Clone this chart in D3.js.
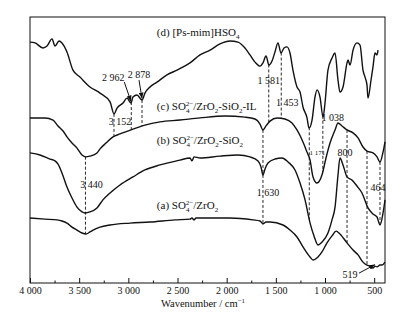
<!DOCTYPE html>
<html>
<head>
<meta charset="utf-8">
<script src="https://cdn.jsdelivr.net/npm/d3@7"></script>
<style>
  body { margin: 0; background: #fff; }
  svg { display: block; font-family: "Liberation Serif", "Times New Roman", serif; }
</style>
</head>
<body>
<svg id="chart" width="410" height="314"></svg>
<script>
// FT-IR spectra, [wavenumber (cm-1), transmittance (a.u.)]
const specD = [[4000,90.6],[3949,90.3],[3868,88.4],[3827,89.1],[3776,91.8],[3746,89.1],[3705,91.0],[3675,90.3],
  [3624,86.9],[3563,80.1],[3492,77.5],[3390,73.8],[3288,71.5],[3186,68.2],[3146,63.7],[3115,65.9],[3054,67.8],
  [3014,69.6],[2973,67.8],[2953,70.0],[2912,70.8],[2861,68.9],[2831,71.5],[2780,73.8],[2709,75.6],[2607,78.3],
  [2505,80.1],[2373,82.8],[2271,85.8],[2169,87.6],[2068,89.9],[1966,91.0],[1885,90.6],[1814,88.4],[1763,85.8],
  [1712,83.1],[1661,81.6],[1631,82.8],[1600,85.4],[1570,82.0],[1539,83.5],[1509,86.9],[1478,90.3],[1448,86.5],
  [1417,88.4],[1387,88.8],[1356,86.5],[1326,80.1],[1285,73.8],[1254,71.9],[1224,66.3],[1183,62.2],[1163,58.4],
  [1132,61.4],[1102,70.0],[1081,72.7],[1051,70.0],[1020,62.5],[1000,67.8],[970,80.1],[929,84.6],[898,86.5],
  [868,76.4],[848,71.9],[817,73.8],[776,82.8],[766,83.9],[746,82.0],[715,87.6],[675,90.3],[644,89.5],[614,80.1],
  [593,77.5],[573,74.5],[563,69.6],[532,76.4],[512,81.3],[492,86.5],[471,85.8],[461,87.6]];

const specC = [[4000,62.2],[3847,62.2],[3766,61.4],[3715,59.2],[3664,57.3],[3624,55.1],[3573,52.8],[3522,50.9],
  [3471,48.3],[3431,47.6],[3390,47.9],[3319,49.1],[3288,50.6],[3227,52.8],[3156,55.1],[3085,56.2],[2953,58.0],
  [2831,59.5],[2678,60.7],[2475,61.4],[2271,62.2],[2017,62.9],[1814,62.5],[1712,61.8],[1661,59.9],[1631,57.7],
  [1600,59.2],[1559,61.0],[1488,62.2],[1407,61.8],[1336,60.3],[1285,57.7],[1224,53.2],[1183,49.4],[1152,46.4],
  [1122,40.1],[1081,37.8],[1031,40.8],[990,47.2],[949,52.8],[898,57.7],[868,60.3],[827,59.2],[776,57.7],
  [715,56.6],[664,54.7],[614,51.3],[573,49.8],[512,49.1],[471,47.6],[441,45.7],[410,49.4],[390,53.2]];

const specB = [[4000,49.1],[3898,48.3],[3797,46.8],[3746,46.1],[3715,44.9],[3675,41.6],[3624,36.3],[3573,32.2],
  [3522,28.8],[3471,27.0],[3441,26.6],[3390,27.0],[3319,28.5],[3258,31.5],[3186,34.1],[3085,37.1],[2953,40.1],
  [2831,42.7],[2678,44.6],[2475,46.4],[2373,47.2],[2353,46.1],[2332,47.6],[2271,47.2],[2068,47.9],[1885,48.3],
  [1763,47.6],[1681,46.1],[1651,43.8],[1631,40.8],[1610,43.1],[1580,45.3],[1509,46.8],[1437,47.2],[1376,45.7],
  [1305,42.7],[1254,37.8],[1203,31.5],[1152,22.8],[1112,18.0],[1071,14.6],[1031,15.7],[970,19.1],[929,24.0],
  [898,28.8],[868,40.8],[848,47.2],[817,44.6],[776,40.1],[725,38.9],[675,36.7],[624,34.1],[563,28.5],[512,26.2],
  [471,25.1],[441,22.1],[410,26.6],[390,31.5]];

const specA = [[4000,24.7],[3847,24.3],[3725,24.0],[3675,23.6],[3624,22.8],[3573,21.3],[3522,20.2],[3471,19.1],
  [3431,18.7],[3390,19.5],[3359,20.2],[3288,21.3],[3186,22.1],[2983,22.8],[2780,23.2],[2525,24.0],[2373,24.3],
  [2353,24.7],[2332,24.0],[2312,24.7],[2220,24.7],[1966,24.7],[1732,24.0],[1661,23.6],[1631,22.5],[1600,23.2],
  [1559,23.2],[1427,22.1],[1356,20.2],[1285,17.6],[1224,13.9],[1152,10.1],[1122,9.0],[1071,10.1],[1031,12.0],
  [980,15.4],[929,18.0],[888,19.8],[858,19.1],[776,15.4],[715,12.7],[664,10.9],[614,8.2],[573,7.1],[543,6.7],
  [512,6.0],[492,6.7],[471,6.4],[441,7.1],[420,7.1],[390,8.2]];

const tickValues = [4000, 3500, 3000, 2500, 2000, 1500, 1000, 500];
const tickLabels = ['4 000', '3 500', '3 000', '2 500', '2 000', '1 500', '1 000', '500'];
const minorTicks = [3750, 3250, 2750, 2250, 1750, 1250, 750];

// marked bands: where the dashed guide is drawn and which spectra it joins
const peaks = [
  { label: '3 152', wn: 3146, from: 'd', to: 'c' },
  { label: '2 962', wn: 2970, from: 'd', to: 'c' },
  { label: '2 878', wn: 2861, from: 'd', to: 'c' },
  { label: '3 440', wn: 3436, from: 'c', to: 'a' },
  { label: '1 581', wn: 1572, from: 'd', to: 'c' },
  { label: '1 453', wn: 1445, from: 'd', to: 'c' },
  { label: '1 630', wn: 1631, from: 'c', to: 'a' },
  { label: '1 171', wn: 1160, from: 'd', to: 'b' },
  { label: '1 038', wn: 1022, from: 'd', to: 'c' },
  { label: '800',   wn: 776,  from: 'c', to: 'a' },
  { label: '464',   wn: 441,  from: 'c', to: 'b' },
  { label: '519',   wn: 573,  from: 'c', to: 'a' }
];

const seriesNames = ['d', 'c', 'b', 'a'];
const seriesLabels = {
  d: [['(d) [Ps-mim]HSO'], ['4', 'sub']],
  c: [['(c) SO'], ['4', 'sub'], ['2\u2212', 'sup'], ['/ZrO'], ['2', 'sub'], ['-SiO'], ['2', 'sub'], ['-IL']],
  b: [['(b) SO'], ['4', 'sub'], ['2\u2212', 'sup'], ['/ZrO'], ['2', 'sub'], ['-SiO'], ['2', 'sub']],
  a: [['(a) SO'], ['4', 'sub'], ['2\u2212', 'sup'], ['/ZrO'], ['2', 'sub']]
};

// ---- layout ----
const spectra = { a: specA, b: specB, c: specC, d: specD };
const labelBase = { d: 92.7, c: 65.0, b: 52.6, a: 28.1 };   // baseline, in y units
const peakText = {
  '3 152': [6, 60.7], '2 962': [-18, 77.5], '2 878': [-3, 78.6], '1 581': [0, 76.4],
  '1 453': [6, 67.8], '1 038': [10, 62.2], '1 171': [8, 49.1], '800': [-2, 49.1],
  '3 440': [6, 37.1], '1 630': [5, 34.1], '464': [-2, 36.0], '519': [-17, 3.7]
};
const arrows = {
  '2 962': { off: [11, 5], series: 'd', wn: 2973 },
  '2 878': { off: [0, 6], series: 'd', wn: 2861 },
  '519':   { off: [9, -1], series: 'a', wn: 492 }
};

const svg = d3.select('#chart');
const x = d3.scaleLinear().domain([4000, 390]).range([30, 385]);
const y = d3.scaleLinear().domain([0, 100]).range([284, 17]);
const plotTop = 17, plotBottom = 283;

function valueAt(s, wn) {
  for (let i = 0; i < s.length - 1; i++) {
    const [w0, t0] = s[i], [w1, t1] = s[i + 1];
    if (wn <= w0 && wn >= w1) return t0 + (t1 - t0) * (w0 - wn) / (w0 - w1);
  }
  return s[s.length - 1][1];
}

// frame
svg.append('rect')
  .attr('x', x(4000)).attr('y', plotTop)
  .attr('width', x(390) - x(4000)).attr('height', plotBottom - plotTop)
  .attr('fill', 'none').attr('stroke', '#111').attr('stroke-width', 1);

// axis
const gx = svg.append('g').attr('transform', `translate(0,${plotBottom})`)
  .call(d3.axisBottom(x).tickValues(tickValues).tickFormat((d, i) => tickLabels[i])
    .tickSize(-5).tickPadding(4));
gx.select('.domain').remove();
gx.attr('font-family', null).attr('font-size', 10);
gx.selectAll('text').attr('fill', '#111');
gx.selectAll('line').attr('stroke', '#111');

const gm = svg.append('g').attr('transform', `translate(0,${plotBottom})`)
  .call(d3.axisBottom(x).tickValues(minorTicks).tickFormat('').tickSize(-2.5));
gm.select('.domain').remove();
gm.selectAll('line').attr('stroke', '#111');

const title = svg.append('text')
  .attr('x', 203).attr('y', 306.5)
  .attr('text-anchor', 'middle').attr('font-size', 10.5).attr('fill', '#111')
  .text('Wavenumber / cm');
title.append('tspan').attr('font-size', 7).attr('dy', -4).text('\u22121');

// dashed guides
svg.append('g').selectAll('line').data(peaks).join('line')
  .attr('x1', d => x(d.wn)).attr('x2', d => x(d.wn))
  .attr('y1', d => y(valueAt(spectra[d.from], d.wn)))
  .attr('y2', d => y(valueAt(spectra[d.to], d.wn)))
  .attr('stroke', '#111').attr('stroke-width', 0.9).attr('stroke-dasharray', '3,2');

// spectra
const line = d3.line().x(d => x(d[0])).y(d => y(d[1])).curve(d3.curveMonotoneX);
svg.append('g').selectAll('path').data(seriesNames).join('path')
  .attr('d', k => line(spectra[k]))
  .attr('fill', 'none').attr('stroke', '#111').attr('stroke-width', 1.4)
  .attr('stroke-linejoin', 'round');

// series labels
seriesNames.forEach(k => {
  const t = svg.append('text').attr('x', x(2710)).attr('y', y(labelBase[k]))
    .attr('font-size', 11).attr('fill', '#111');
  let off = 0;
  seriesLabels[k].forEach(([s, kind]) => {
    const target = kind === 'sub' ? 3 : kind === 'sup' ? -4 : 0;
    const ts = t.append('tspan').text(s).attr('dy', target - off);
    if (kind) ts.attr('font-size', 7);
    if (kind === 'sup') ts.attr('dx', -3.6);
    off = target;
  });
});

// peak labels
svg.append('g').selectAll('text').data(peaks).join('text')
  .attr('x', d => x(d.wn) + peakText[d.label][0])
  .attr('y', d => y(peakText[d.label][1]))
  .attr('dy', '0.35em').attr('text-anchor', 'middle')
  .attr('font-size', d => d.label === '1 171' ? 7 : 10).attr('fill', '#111')
  .text(d => d.label);

// arrows
svg.append('defs').append('marker')
  .attr('id', 'head').attr('viewBox', '0 0 6 5').attr('refX', 6).attr('refY', 2.5)
  .attr('markerWidth', 6).attr('markerHeight', 5).attr('markerUnits', 'userSpaceOnUse')
  .attr('orient', 'auto')
  .append('path').attr('d', 'M0,0L6,2.5L0,5Z').attr('fill', '#111');

peaks.filter(p => arrows[p.label]).forEach(p => {
  const a = arrows[p.label];
  const lx = x(p.wn) + peakText[p.label][0], ly = y(peakText[p.label][1]);
  svg.append('line')
    .attr('x1', lx + a.off[0]).attr('y1', ly + a.off[1])
    .attr('x2', x(a.wn)).attr('y2', y(valueAt(spectra[a.series], a.wn)) - 1.5)
    .attr('stroke', '#111').attr('stroke-width', 1)
    .attr('marker-end', 'url(#head)');
});
</script>
</body>
</html>
